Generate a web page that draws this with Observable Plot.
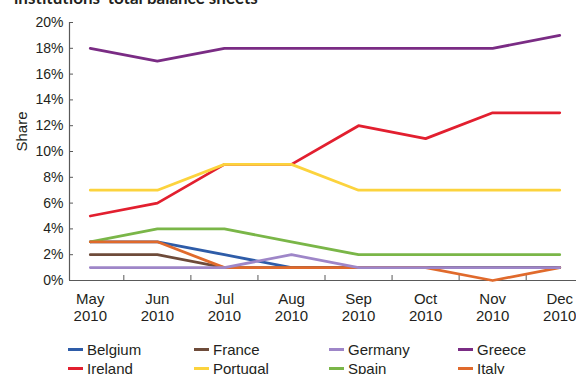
<!DOCTYPE html>
<html>
<head>
<meta charset="utf-8">
<script src="https://cdn.jsdelivr.net/npm/d3@7"></script>
<script src="https://cdn.jsdelivr.net/npm/@observablehq/plot@0.6"></script>
<style>
  html, body { margin: 0; padding: 0; background: #fff; }
  #wrap { position: relative; width: 576px; height: 374px; overflow: hidden; font-family: "Liberation Sans", Arial, sans-serif; color: #231f20; }
  #title { position: absolute; left: 14px; top: -11px; font: bold 17px/17px Lato, "Open Sans", sans-serif; white-space: nowrap; color: #231f20; }
  #chart { position: absolute; left: 0; top: 0; }
  #legend { position: absolute; left: 0; top: 330px; width: 576px; height: 44px; }
  .item { position: absolute; height: 19px; display: flex; align-items: center; font-size: 15px; white-space: nowrap; }
  .sw { width: 15px; height: 3.5px; margin-right: 4px; }
</style>
</head>
<body>
<div id="wrap">
  <div id="chart"></div>
  <div id="title">institutions' total balance sheets</div>
  <div id="legend"></div>
</div>
<script>
// Months on the horizontal axis
const months = ["May", "Jun", "Jul", "Aug", "Sep", "Oct", "Nov", "Dec"];
const year = "2010";

// Countries in legend order, with their line colours
const countries = ["Belgium", "France", "Germany", "Greece", "Ireland", "Portugal", "Spain", "Italy"];
const colors = ["#2e5ca8", "#6e4b3a", "#9e86c8", "#7a2c84", "#e21f2f", "#fcd33d", "#7ab648", "#e06a2c"];

// Share of total balance sheets, % (May–Dec 2010)
const belgium  = [3, 3, 2, 1, 1, 1, 1, 1];
const france   = [2, 2, 1, 1, 1, 1, 1, 1];
const germany  = [1, 1, 1, 2, 1, 1, 1, 1];
const greece   = [18, 17, 18, 18, 18, 18, 18, 19];
const ireland  = [5, 6, 9, 9, 12, 11, 13, 13];
const portugal = [7, 7, 9, 9, 7, 7, 7, 7];
const spain    = [3, 4, 4, 3, 2, 2, 2, 2];
const italy    = [3, 3, 1, 1, 1, 1, 0, 1];

// Y tick values (percent)
const yTicks = [0, 2, 4, 6, 8, 10, 12, 14, 16, 18, 20];

const series = {
  Belgium: belgium, France: france, Germany: germany, Greece: greece,
  Ireland: ireland, Portugal: portugal, Spain: spain, Italy: italy
};

// Stacking order of the lines (later ones are drawn on top)
const drawOrder = ["Belgium", "France", "Greece", "Ireland", "Portugal", "Spain", "Italy", "Germany"];
const rows = drawOrder.flatMap(c => series[c].map((v, i) => ({country: c, i, value: v})));

const idx = months.map((_, i) => i);
const boundaries = idx.slice(0, -1).map(i => i + 0.5);
const X_DOMAIN = [-0.31, 7.25];
const ink = "#231f20";
const axisInk = "#595959";

const chart = Plot.plot({
  width: 576,
  height: 330,
  marginLeft: 69,
  marginRight: 0,
  marginTop: 22,
  marginBottom: 50,
  style: {fontFamily: "'Liberation Sans', Arial, sans-serif", color: ink, background: "transparent"},
  x: {type: "linear", domain: X_DOMAIN, axis: null},
  y: {domain: [0, 20], axis: null},
  color: {domain: countries, range: colors},
  marks: [
    Plot.axisY(yTicks, {tickSize: -4, tickPadding: 10, tickFormat: d => d + "%", fontSize: 14, stroke: axisInk, color: ink, label: null}),
    Plot.axisX(boundaries, {tickSize: -5, tickFormat: () => "", stroke: axisInk, label: null}),
    Plot.axisX(idx, {tickSize: 0, tickPadding: 12, tickFormat: i => months[i] + "\n" + year, fontSize: 15, lineHeight: 1.1, label: null, fill: ink}),
    Plot.text(["Share"], {frameAnchor: "left", rotate: -90, dx: -47, fontSize: 15, fill: ink}),
    Plot.ruleX([X_DOMAIN[0]], {stroke: axisInk, strokeWidth: 1.2}),
    Plot.ruleY([0], {stroke: axisInk, strokeWidth: 1.2}),
    Plot.line(rows, {x: "i", y: "value", z: "country", stroke: "country", strokeWidth: 2.8})
  ]
});
document.getElementById("chart").append(chart);

// Legend: four columns, two rows
const legendCols = [68, 194, 329, 458];
const legend = document.getElementById("legend");
countries.forEach((c, k) => {
  const el = document.createElement("div");
  el.className = "item";
  el.style.left = legendCols[k % 4] + "px";
  el.style.top = (10 + Math.floor(k / 4) * 19) + "px";
  const sw = document.createElement("span");
  sw.className = "sw";
  sw.style.background = colors[k];
  el.append(sw, document.createTextNode(c));
  legend.append(el);
});
</script>
</body>
</html>
